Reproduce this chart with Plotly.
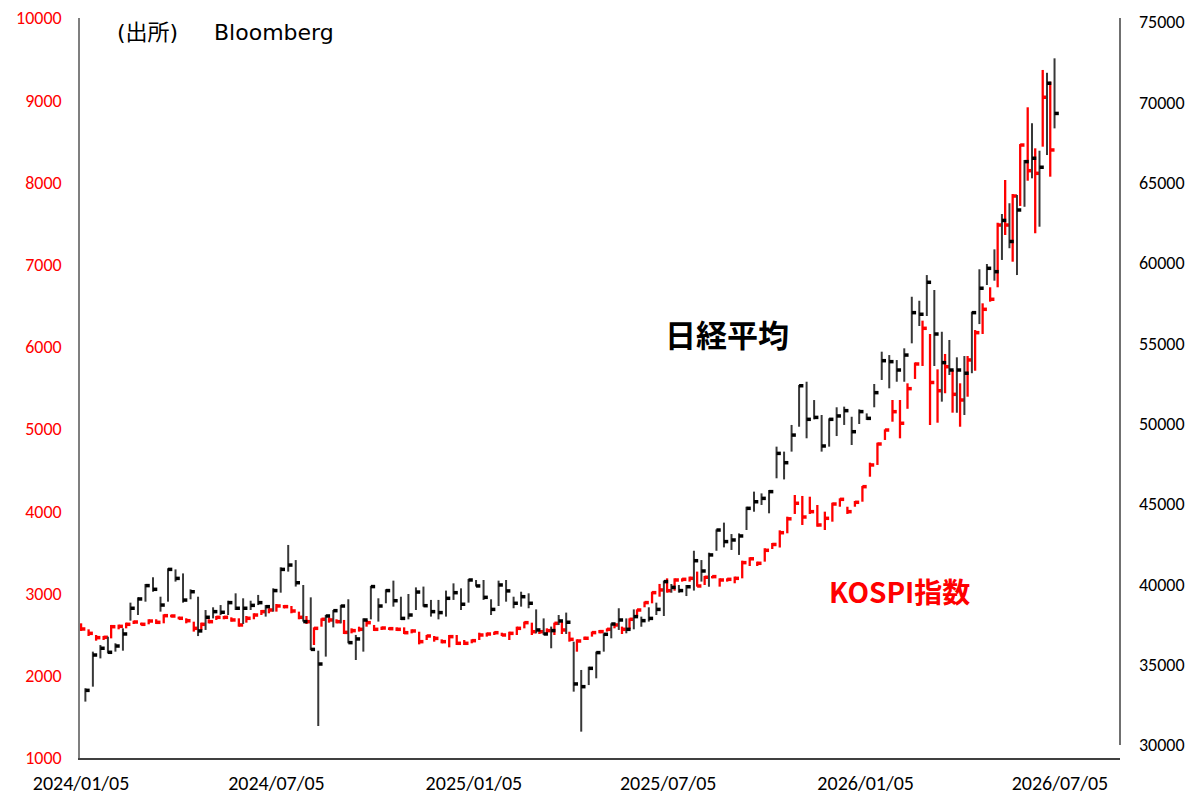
import pandas as pd
import plotly.graph_objects as go

# ---------------- data ----------------
n_weeks = 130
kospi_dates = pd.date_range("2024-01-05", periods=n_weeks, freq="7D")
nikkei_dates = pd.date_range("2024-01-09", periods=n_weeks, freq="7D")

nikkei_high = [33530, 35810, 36220, 36740, 36330, 37260, 38860, 39190, 40020, 40440,
               39230, 41000, 40930, 40680, 39690, 39230, 38400, 38570, 38710, 38980,
               39440, 39130, 38980, 39340, 38710, 39750, 41060, 42450, 41510, 39960,
               39190, 35870, 38090, 38400, 38710, 39070, 36850, 37880, 39900, 39130,
               39690, 40230, 39230, 39400, 39810, 39860, 39030, 39030, 39610, 40060,
               39750, 40330, 40270, 40270, 39070, 40230, 40270, 39230, 39540, 39440,
               38440, 37880, 37370, 38090, 38240, 36430, 34670, 34870, 35810, 36950,
               37570, 38510, 37880, 38440, 37990, 38570, 38860, 40230, 40020, 39960,
               39960, 42090, 41510, 41970, 43420, 43840, 43130, 43170, 44830, 45770,
               45660, 45870, 48570, 48260, 49920, 52410, 52610, 51470, 50540, 50330,
               51020, 51060, 50430, 50890, 50640, 52470, 54480, 54270, 53960, 54690,
               57900, 57650, 59250, 58320, 55720, 55210, 54130, 54210, 56970, 59610,
               59940, 60850, 63050, 63720, 64230, 66410, 68700, 66990, 71840, 72740]
nikkei_low = [32700, 33630, 35390, 35700, 35810, 35870, 37740, 38090, 38920, 39540,
              38300, 38920, 40170, 38860, 39070, 36780, 37160, 37880, 38090, 38090,
              38400, 37530, 38400, 38710, 37990, 38300, 39480, 40790, 39860, 37680,
              35910, 31180, 35500, 37320, 37570, 36330, 35290, 35810, 37820, 37680,
              38820, 38610, 37780, 37820, 38400, 38610, 37990, 37820, 37990, 39030,
              38400, 38860, 39860, 39030, 38090, 38650, 38920, 38510, 38610, 38510,
              36950, 36850, 36020, 37470, 36910, 33320, 30830, 33730, 34150, 35810,
              36640, 37160, 36950, 37200, 37360, 37680, 38090, 38030, 39480, 39480,
              39270, 39610, 40170, 39850, 42090, 42300, 42140, 41830, 43380, 44520,
              44940, 44420, 46600, 46530, 48260, 49810, 49090, 50270, 48260, 48570,
              49230, 49920, 48670, 49980, 50230, 51020, 52720, 52200, 52610, 52610,
              55000, 56080, 56700, 53590, 51370, 53030, 50680, 50540, 53140, 56200,
              58630, 58900, 60190, 60920, 59250, 63500, 65270, 62260, 66720, 68380]
nikkei_close = [33400, 35600, 36020, 35770, 36160, 36910, 38510, 39090, 39920, 39690,
                38710, 40930, 40370, 39020, 39540, 37100, 37950, 38300, 38260, 38860,
                38510, 38510, 38690, 38860, 38610, 39610, 40930, 41200, 40100, 37680,
                35950, 35040, 38030, 38360, 38650, 36370, 36600, 37780, 39860, 38650,
                39610, 38980, 37880, 38090, 39520, 38670, 38300, 38240, 39130, 39480,
                38760, 40270, 39900, 39190, 38440, 39960, 39590, 38820, 39230, 38820,
                37160, 36910, 37120, 37720, 37640, 33800, 33630, 34770, 35750, 36890,
                37530, 37780, 37200, 37990, 37740, 37880, 38440, 40170, 39810, 39610,
                39850, 41470, 40830, 41830, 43380, 42660, 42760, 43010, 44730, 45140,
                45350, 45770, 48150, 47570, 49290, 52360, 50270, 50390, 48610, 50270,
                50480, 50810, 49500, 50750, 50330, 51930, 53920, 53860, 53340, 54270,
                56910, 56810, 58800, 55580, 53800, 53340, 53340, 53140, 56910, 58430,
                59670, 59460, 62650, 61340, 63300, 66310, 66520, 65960, 71190, 69310]

kospi_high = [2638, 2565, 2496, 2484, 2618, 2622, 2646, 2670, 2646, 2687,
              2687, 2747, 2743, 2719, 2699, 2658, 2646, 2687, 2727, 2727,
              2711, 2699, 2727, 2760, 2800, 2820, 2873, 2861, 2849, 2780,
              2727, 2589, 2699, 2711, 2687, 2679, 2577, 2597, 2679, 2618,
              2597, 2589, 2589, 2589, 2565, 2536, 2496, 2484, 2443, 2496,
              2496, 2435, 2443, 2524, 2524, 2536, 2524, 2536, 2597, 2658,
              2646, 2557, 2577, 2646, 2658, 2536, 2443, 2476, 2537, 2557,
              2577, 2630, 2598, 2699, 2808, 2902, 3023, 3117, 3185, 3185,
              3185, 3206, 3267, 3214, 3214, 3185, 3185, 3206, 3400, 3441,
              3388, 3551, 3615, 3769, 3935, 4199, 4187, 4178, 4077, 3996,
              4105, 4158, 4056, 4126, 4308, 4592, 4835, 4997, 5354, 5354,
              5557, 5810, 6319, 6157, 5727, 5914, 5719, 5557, 5889, 6205,
              6530, 6725, 7510, 8030, 7859, 8467, 8914, 8415, 9368, 9225]
kospi_low = [2545, 2484, 2427, 2435, 2455, 2565, 2577, 2630, 2614, 2626,
             2630, 2638, 2711, 2687, 2638, 2537, 2557, 2638, 2679, 2687,
             2658, 2597, 2646, 2687, 2739, 2760, 2780, 2820, 2760, 2687,
             2630, 2374, 2597, 2646, 2638, 2508, 2516, 2537, 2597, 2545,
             2557, 2557, 2545, 2508, 2516, 2382, 2435, 2415, 2395, 2346,
             2374, 2374, 2395, 2435, 2476, 2496, 2484, 2435, 2496, 2577,
             2496, 2508, 2516, 2496, 2508, 2415, 2293, 2436, 2476, 2517,
             2537, 2577, 2508, 2565, 2719, 2833, 2881, 2962, 3011, 3035,
             3145, 3145, 3084, 3104, 3185, 3084, 3145, 3125, 3185, 3335,
             3335, 3388, 3542, 3560, 3733, 3968, 3834, 3968, 3813, 3773,
             3874, 4056, 3968, 4056, 4117, 4421, 4564, 4868, 5090, 4888,
             5247, 5610, 5768, 5050, 5078, 5436, 5200, 5029, 5394, 5710,
             6157, 6550, 6725, 7361, 7036, 7714, 8021, 7382, 8435, 8070]
kospi_close = [2569, 2516, 2464, 2468, 2597, 2601, 2626, 2654, 2626, 2666,
               2650, 2731, 2727, 2699, 2670, 2577, 2626, 2658, 2711, 2711,
               2679, 2618, 2699, 2739, 2780, 2800, 2849, 2841, 2788, 2711,
               2658, 2577, 2687, 2679, 2658, 2528, 2549, 2565, 2646, 2565,
               2581, 2573, 2565, 2524, 2545, 2415, 2484, 2455, 2415, 2476,
               2395, 2395, 2427, 2496, 2508, 2524, 2496, 2516, 2577, 2646,
               2536, 2536, 2549, 2638, 2557, 2443, 2423, 2456, 2525, 2537,
               2565, 2618, 2565, 2687, 2800, 2890, 3011, 3044, 3035, 3165,
               3173, 3185, 3092, 3198, 3206, 3165, 3173, 3185, 3376, 3423,
               3368, 3526, 3597, 3740, 3909, 4098, 3931, 3996, 3834, 3915,
               4089, 4146, 3996, 4110, 4300, 4564, 4819, 4989, 5212, 5071,
               5492, 5792, 6226, 5567, 5467, 5759, 5423, 5354, 5841, 6173,
               6457, 6579, 7482, 7482, 7835, 8455, 8143, 8111, 9036, 8395]

x_tick_dates = ["2024-01-05", "2024-07-05", "2025-01-05", "2025-07-05", "2026-01-05", "2026-07-05"]
x_tick_text = ["2024/01/05", "2024/07/05", "2025/01/05", "2025/07/05", "2026/01/05", "2026/07/05"]
left_ticks = list(range(1000, 10001, 1000))
left_tick_text = [str(v) for v in left_ticks]
right_ticks = list(range(30000, 75001, 5000))
right_tick_text = [str(v) for v in right_ticks]

source_paren = "(出所)"
source_name = "Bloomberg"
nikkei_label = "日経平均"
kospi_label = "KOSPI指数"

# ---------------- helpers ----------------
TICK_LEN = pd.Timedelta(days=4)


def fmt(d):
    return d.strftime("%Y-%m-%d %H:%M")


def bar_segments(dates, high, low, close):
    vx, vy, tx, ty = [], [], [], []
    for d, h, l, c in zip(dates, high, low, close):
        vx += [fmt(d), fmt(d), None]
        vy += [l, h, None]
        tx += [fmt(d), fmt(d + TICK_LEN), None]
        ty += [c, c, None]
    return vx, vy, tx, ty


FONT = "Carlito, Calibri, 'Liberation Sans Narrow', 'DejaVu Sans Condensed', 'Noto Sans CJK JP', sans-serif"
NOTE_FONT = "'DejaVu Sans', 'Noto Sans CJK JP', sans-serif"
CJK_BOLD = "'Noto Sans CJK JP', sans-serif"

fig = go.Figure()

nvx, nvy, ntx, nty = bar_segments(nikkei_dates, nikkei_high, nikkei_low, nikkei_close)
kvx, kvy, ktx, kty = bar_segments(kospi_dates, kospi_high, kospi_low, kospi_close)

fig.add_trace(go.Scatter(x=nvx, y=nvy, mode="lines", yaxis="y2",
                         line=dict(color="#383838", width=2), hoverinfo="skip",
                         showlegend=False, connectgaps=False))
fig.add_trace(go.Scatter(x=ntx, y=nty, mode="lines", yaxis="y2",
                         line=dict(color="#000000", width=3.5), hoverinfo="skip",
                         showlegend=False, connectgaps=False))
fig.add_trace(go.Scatter(x=kvx, y=kvy, mode="lines", yaxis="y",
                         line=dict(color="#ff0000", width=2.3), hoverinfo="skip",
                         showlegend=False, connectgaps=False))
fig.add_trace(go.Scatter(x=ktx, y=kty, mode="lines", yaxis="y",
                         line=dict(color="#ff0000", width=3.5), hoverinfo="skip",
                         showlegend=False, connectgaps=False))

fig.update_layout(
    width=1195, height=796,
    margin=dict(l=80, r=75, t=18, b=38),
    paper_bgcolor="white", plot_bgcolor="white",
    font=dict(family=FONT, size=18, color="black"),
    showlegend=False,
    xaxis=dict(
        type="date",
        range=["2024-01-04", "2026-08-30"],
        tickvals=x_tick_dates, ticktext=x_tick_text,
        showgrid=False, zeroline=False,
        showline=True, linecolor="#404040", linewidth=1.5,
        ticks="", tickfont=dict(size=20, color="black"),
        ticklabelstandoff=6, automargin=False,
    ),
    yaxis=dict(
        range=[1000, 10000], tickvals=left_ticks, ticktext=left_tick_text,
        showgrid=False, zeroline=False,
        showline=True, linecolor="#7f7f7f", linewidth=1.5,
        ticks="", tickfont=dict(size=18, color="#ff0000"),
        ticklabelstandoff=13, automargin=False,
    ),
    yaxis2=dict(
        range=[29190, 75250], tickvals=right_ticks, ticktext=right_tick_text,
        overlaying="y", side="right",
        showgrid=False, zeroline=False, showline=False,
        ticks="", tickfont=dict(size=18, color="black"),
        ticklabelstandoff=18, automargin=False,
    ),
    shapes=[dict(type="line", xref="paper", x0=1, x1=1, yref="y2", y0=30000, y1=75250,
                 line=dict(color="#404040", width=1.5))],
    annotations=[
        dict(text=source_paren, xref="paper", yref="paper", x=0.034, y=0.981,
             xanchor="left", yanchor="middle", showarrow=False,
             font=dict(size=22, color="black", family=NOTE_FONT)),
        dict(text=source_name, xref="paper", yref="paper", x=0.127, y=0.981,
             xanchor="left", yanchor="middle", showarrow=False,
             font=dict(size=22, color="black", family=NOTE_FONT)),
        dict(text="<b>" + nikkei_label + "</b>", xref="paper", yref="paper", x=0.622, y=0.574,
             xanchor="center", yanchor="middle", showarrow=False,
             font=dict(size=31, color="black", family=CJK_BOLD)),
        dict(text="<b>" + kospi_label + "</b>", xref="paper", yref="paper", x=0.788, y=0.2257,
             xanchor="center", yanchor="middle", showarrow=False,
             font=dict(size=28, color="#ff0000", family=CJK_BOLD)),
    ],
)

fig.write_html("out.html", config={"displayModeBar": False},
               post_script="document.body.style.margin='0';")
